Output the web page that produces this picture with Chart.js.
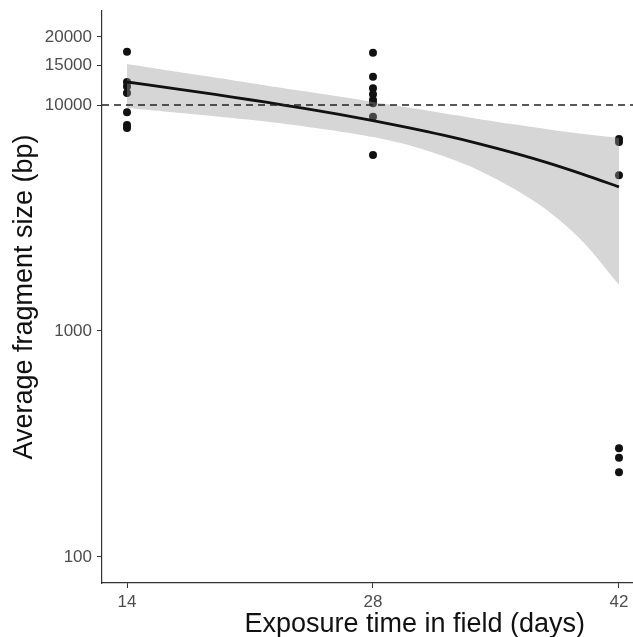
<!DOCTYPE html>
<html><head><meta charset="utf-8">
<script src="https://cdn.jsdelivr.net/npm/chart.js@4"></script>
<style>html,body{margin:0;padding:0;background:#fff}</style>
</head><body>
<canvas id="c" width="633" height="637"></canvas>
<script>
// observed samples
const pointDays  = [14,14,14,14,14,14,14, 28,28,28,28,28,28,28,28, 42,42,42,42,42,42];
const pointSizes = [17210,12640,12080,11300,9290,8150,7910,
                    17030,13340,11860,11150,10520,10170,8880,6010,
                    7070,6860,4890,303,275,237];
// fitted curve and confidence band
const fitDays     = [14,16,18,20,22,24,26,28,30,32,34,36,38,40,42];
const fitValues   = [12640,12030,11430,10840,10260,9680,9110,8530,7940,7350,6750,6140,5530,4920,4340];
const upperValues = [15190,14370,13600,12870,12180,11530,10920,10320,9750,9200,8680,8210,7800,7450,7150];
const lowerValues = [9700,9390,9080,8760,8430,8060,7660,7210,6650,5940,5150,4270,3380,2460,1600];
const thresholdValue = 10000;
const xTicks = [14,28,42];
const yTicks = [100,1000,10000,15000,20000];
const xTitle = 'Exposure time in field (days)';
const yTitle = 'Average fragment size (bp)';

const toXY = (xs, ys) => xs.map((x, i) => ({x: x, y: ys[i]}));
const fam = '"Liberation Sans", Arial, sans-serif';

const extrasPlugin = {
  id: 'extras',
  afterDatasetsDraw(chart) {
    const {ctx, chartArea, scales} = chart;
    const y = scales.y.getPixelForValue(thresholdValue);
    ctx.save();
    ctx.strokeStyle = '#222';
    ctx.lineWidth = 1.3;
    ctx.setLineDash([7, 5]);
    ctx.beginPath();
    ctx.moveTo(chartArea.left, y);
    ctx.lineTo(chartArea.right, y);
    ctx.stroke();
    ctx.restore();
  },
  afterDraw(chart) {
    const {ctx, chartArea} = chart;
    ctx.save();
    ctx.fillStyle = '#111';
    ctx.font = '27px ' + fam;
    ctx.textAlign = 'center';
    ctx.textBaseline = 'alphabetic';
    ctx.fillText(xTitle, chartArea.left + 0.589 * (chartArea.right - chartArea.left), chart.height - 5);
    ctx.restore();
  }
};

const axisCol = '#333';
const tickFont = {family: fam, size: 17};
const titleFont = {family: fam, size: 27};

new Chart(document.getElementById('c'), {
  type: 'scatter',
  data: {
    datasets: [
      {
        label: 'samples', type: 'scatter', order: 3,
        data: toXY(pointDays, pointSizes),
        pointRadius: 4, pointHoverRadius: 4,
        backgroundColor: '#111', borderColor: '#111', borderWidth: 0
      },
      {
        label: 'upper', type: 'line', order: 2,
        data: toXY(fitDays, upperValues),
        borderWidth: 0, pointRadius: 0, tension: 0.3,
        borderColor: 'rgba(0,0,0,0)',
        fill: '+1', backgroundColor: 'rgba(153,153,153,0.4)'
      },
      {
        label: 'lower', type: 'line', order: 2,
        data: toXY(fitDays, lowerValues),
        borderWidth: 0, pointRadius: 0, tension: 0.3,
        borderColor: 'rgba(0,0,0,0)', fill: false
      },
      {
        label: 'fit', type: 'line', order: 1,
        data: toXY(fitDays, fitValues),
        borderColor: '#111', borderWidth: 2.8, pointRadius: 0,
        tension: 0.3, fill: false
      }
    ]
  },
  options: {
    responsive: false, animation: false, devicePixelRatio: 1,
    layout: {autoPadding: false, padding: {top: 11, right: 0, left: 0, bottom: 0}},
    plugins: {
      legend: {display: false}, tooltip: {enabled: false},
      filler: {drawTime: 'beforeDatasetDraw'}
    },
    scales: {
      x: {
        type: 'linear', min: 12.577, max: 42.797,
        afterBuildTicks: s => { s.ticks = xTicks.map(v => ({value: v})); },
        afterFit: s => { s.height = 54; s.paddingLeft = 0; s.paddingRight = 0; },
        ticks: {color: '#4d4d4d', font: tickFont, padding: 4, maxRotation: 0,
                callback: v => String(v)},
        grid: {display: true, drawOnChartArea: false, drawTicks: true, tickLength: 5,
               tickColor: axisCol, tickWidth: 1},
        border: {display: true, color: axisCol, width: 1.2},
        title: {display: false}
      },
      y: {
        type: 'logarithmic', min: 76.7, max: 26060,
        afterBuildTicks: s => { s.ticks = yTicks.map(v => ({value: v})); },
        afterFit: s => { s.width = 102; s.paddingTop = 0; s.paddingBottom = 0; },
        ticks: {color: '#4d4d4d', font: tickFont, padding: 5,
                callback: v => String(v)},
        grid: {display: true, drawOnChartArea: false, drawTicks: true, tickLength: 5,
               tickColor: axisCol, tickWidth: 1},
        border: {display: true, color: axisCol, width: 1.2},
        title: {display: true, text: yTitle, color: '#111',
                font: titleFont, padding: {top: 8, bottom: 0}}
      }
    }
  },
  plugins: [extrasPlugin]
});
</script>
</body></html>
